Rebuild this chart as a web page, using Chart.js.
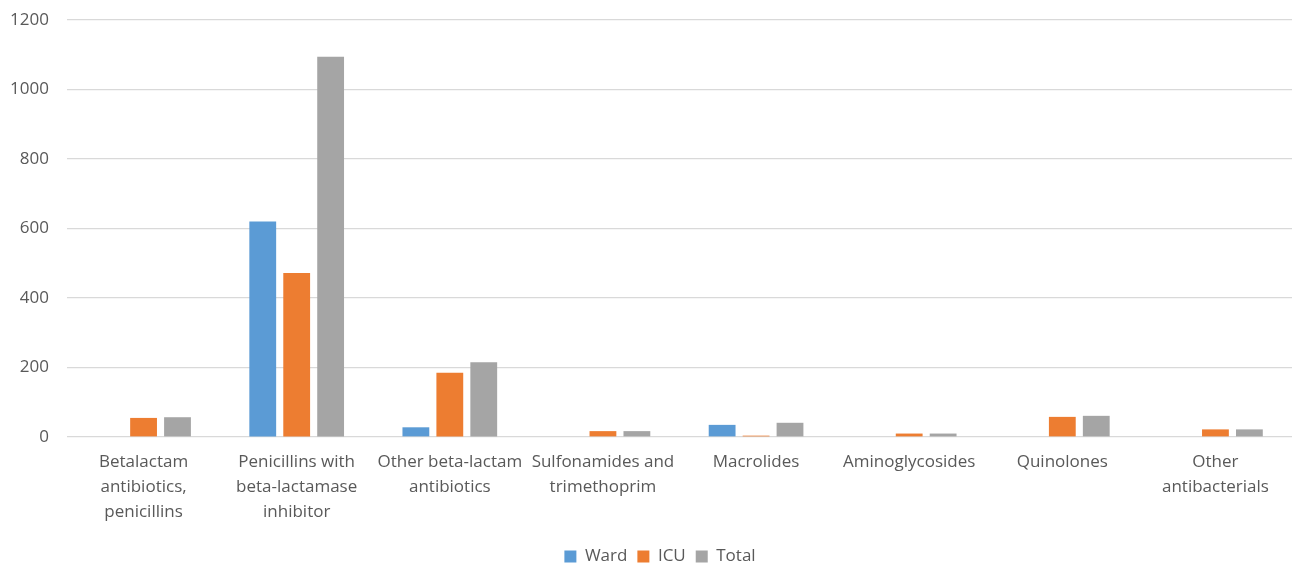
<!DOCTYPE html>
<html>
<head>
<meta charset="utf-8">
<script src="https://cdn.jsdelivr.net/npm/chart.js@4/dist/chart.umd.min.js"></script>
<style>
html,body{margin:0;padding:0;background:#fff;}
#wrap{width:1294px;height:567px;}
</style>
</head>
<body>
<div id="wrap"><canvas id="c" width="1294" height="567"></canvas></div>
<script>
const categories = [
  ["Betalactam", "antibiotics,", "penicillins"],
  ["Penicillins with", "beta-lactamase", "inhibitor"],
  ["Other beta-lactam", "antibiotics"],
  ["Sulfonamides and", "trimethoprim"],
  ["Macrolides"],
  ["Aminoglycosides"],
  ["Quinolones"],
  ["Other", "antibacterials"]
];
const wardValues = [null, 620, 28, null, 35, null, null, null];
const icuValues = [55, 472, 185, 17, 4, 10, 58, 22];
const totalValues = [57, 1094, 215, 17, 41, 10, 61, 22];
const yTicks = [0, 200, 400, 600, 800, 1000, 1200];

const textColor = '#595959';
const fontFamily = '"Open Sans", "Noto Sans", sans-serif';

const legendShift = {
  id: 'legendShift',
  afterLayout(chart) {
    if (chart.legend) { chart.legend.left += 28; }
  }
};

new Chart(document.getElementById('c'), {
  type: 'bar',
  data: {
    labels: categories,
    datasets: [
      { label: 'Ward', data: wardValues, backgroundColor: '#5B9BD5' },
      { label: 'ICU', data: icuValues, backgroundColor: '#ED7D31' },
      { label: 'Total', data: totalValues, backgroundColor: '#A5A5A5' }
    ]
  },
  plugins: [legendShift],
  options: {
    responsive: false,
    animation: false,
    devicePixelRatio: 1,
    layout: { padding: { left: 0, right: 2, top: 20, bottom: -8 } },
    datasets: { bar: { categoryPercentage: 0.665, barPercentage: 0.79 } },
    plugins: {
      legend: {
        position: 'bottom',
        labels: {
          color: textColor,
          font: { family: fontFamily, size: 17 },
          boxWidth: 12, boxHeight: 12, padding: 10
        }
      },
      tooltip: { enabled: false }
    },
    scales: {
      x: {
        grid: { display: false, drawTicks: false },
        border: { display: false },
        afterFit: (s) => { s.paddingLeft = 0; s.paddingRight = 0; },
        ticks: {
          color: textColor,
          font: { family: fontFamily, size: 17, lineHeight: 1.47 },
          padding: 13,
          maxRotation: 0, autoSkip: false
        }
      },
      y: {
        min: 0, max: 1200,
        afterBuildTicks: (axis) => { axis.ticks = yTicks.map(v => ({ value: v })); },
        afterFit: (s) => { s.width = 67; s.paddingTop = 0; s.paddingBottom = 0; },
        grid: { color: '#D9D9D9', lineWidth: 1.3, drawTicks: false },
        border: { display: false },
        ticks: {
          color: textColor,
          font: { family: fontFamily, size: 17 },
          padding: 18,
          callback: (v) => String(v)
        }
      }
    }
  }
});
</script>
</body>
</html>
